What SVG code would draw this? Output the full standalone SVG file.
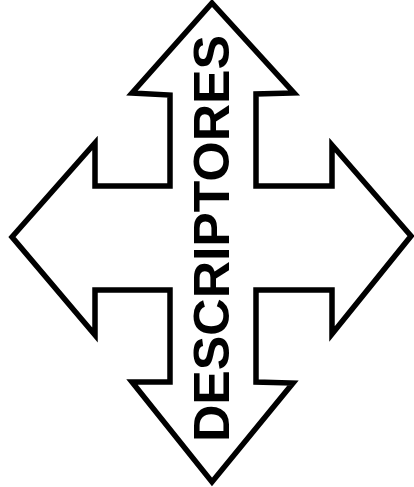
<svg xmlns="http://www.w3.org/2000/svg" width="414" height="487" viewBox="0 0 414 487">
<style>
.outline{fill:#ffffff;stroke:#000000;stroke-width:5.5;stroke-linejoin:miter}
.label{font-family:"Liberation Sans",Arial,sans-serif;font-weight:bold;font-size:50px;fill:#000000}
</style>
<rect width="414" height="487" fill="#ffffff"/>
<g id="cross-arrow">
<polygon class="outline" points="212,3 294,93 256,94 256,186 332,186 332,145 411,236 332,334 332,290 256,290 256,382 293,383 212,482 132,382 170,382 170,290 95,290 95,335 12,237 95,143 95,186 170,186 170,95 132,93"/>
</g>
<g id="label-descriptores">
<text class="label" transform="translate(229,238.5) rotate(-90)" text-anchor="middle" textLength="407" lengthAdjust="spacingAndGlyphs">DESCRIPTORES</text>
</g>
</svg>
